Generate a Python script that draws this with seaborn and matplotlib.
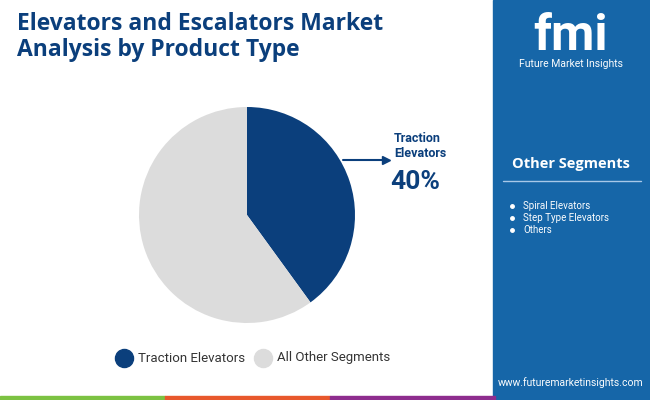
import matplotlib.pyplot as plt
import seaborn as sns
from matplotlib.patches import Rectangle

# Data
segments = ['Traction Elevators', 'All Other Segments']
shares = [40, 60]
colors = ['#0b3f7c', '#dcdcdc']
other_segments = ['Spiral Elevators', 'Step Type Elevators', 'Others']

sns.set_style('white')
plt.rcParams['font.family'] = 'Roboto'

fig = plt.figure(figsize=(6.5, 4), dpi=100)
W, H = 650, 400

def px(x, y):
    return x / W, 1 - y / H

# right panel
fig.patches.append(Rectangle((493 / W, 0), 157 / W, 1, transform=fig.transFigure,
                             color='#1666a8', zorder=0))
# bottom color strips
for i, c in enumerate(['#7cc242', '#e8582c', '#8e2d8e']):
    fig.patches.append(Rectangle((i * 165 / W, 0), 165 / W, 4 / H, transform=fig.transFigure,
                                 color=c, zorder=1))

# title
fig.text(*px(17, 37), 'Elevators and Escalators Market\nAnalysis by Product Type',
         fontsize=16.5, fontweight='bold', color='#0b3f7c', va='center', ha='left',
         family='Open Sans', linespacing=1.1)

# pie
ax = fig.add_axes([(247 - 108) / W, (400 - 215 - 108) / H, 216 / W, 216 / H])
ax.pie(shares, colors=colors, startangle=90, counterclock=False,
       wedgeprops=dict(linewidth=0), radius=1)
ax.set_xlim(-1, 1)
ax.set_ylim(-1, 1)
ax.set_aspect('equal')

# annotation
fig.text(*px(394, 146), 'Traction\nElevators', fontsize=9, fontweight='bold',
         color='#0b3f7c', ha='left', va='center', linespacing=1.2)
fig.text(*px(390, 182), f'{shares[0]}%', fontsize=19, fontweight='bold',
         color='#0b3f7c', ha='left', va='center')
fig.add_artist(plt.Line2D([343 / W, 386 / W], [1 - 160 / H, 1 - 160 / H],
                          color='#0b3f7c', lw=1.5, transform=fig.transFigure))
fig.add_artist(plt.Line2D([386 / W], [1 - 160 / H], marker='>', markersize=6,
                          color='#0b3f7c', transform=fig.transFigure))

# legend
for x, c, lab in [(124, colors[0], segments[0]), (263, colors[1], segments[1])]:
    fig.add_artist(plt.Line2D([x / W], [1 - 358 / H], marker='o', markersize=13,
                              color=c, transform=fig.transFigure))
    fig.text(*px(x + 14, 358), lab, fontsize=9.5, color='#333333', ha='left', va='center')

# right panel content
fig.text(*px(571, 36), 'fmi', fontsize=36, fontweight='bold', color='white',
         ha='center', va='center')
fig.text(*px(571, 64), 'Future Market Insights', fontsize=7.5, color='white',
         ha='center', va='center')
fig.text(*px(571, 164), 'Other Segments', fontsize=10.5, fontweight='bold',
         color='white', ha='center', va='center', family='Open Sans')
fig.add_artist(plt.Line2D([503 / W, 641 / W], [1 - 181 / H, 1 - 181 / H],
                          color='#a8c8e8', lw=1, transform=fig.transFigure))
for i, s in enumerate(other_segments):
    y = 206 + i * 12
    fig.add_artist(plt.Line2D([512 / W], [1 - y / H], marker='o', markersize=2.5,
                              color='white', transform=fig.transFigure))
    fig.text(*px(523, y), s, fontsize=7, color='white', ha='left', va='center')
fig.text(*px(571, 383), 'www.futuremarketinsights.com', fontsize=7.5, color='white',
         ha='center', va='center')

fig.savefig('out.png', dpi=100)
